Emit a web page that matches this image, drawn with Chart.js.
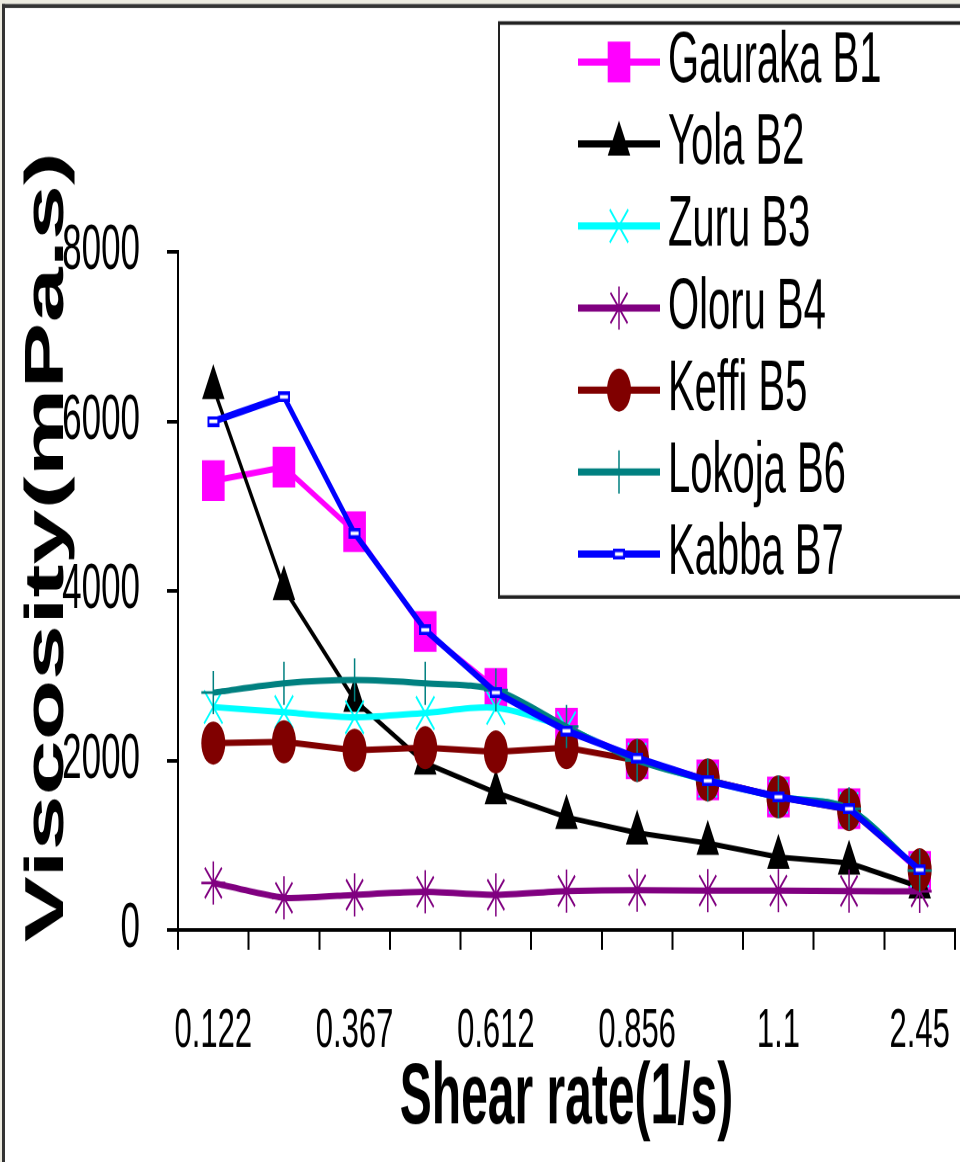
<!DOCTYPE html>
<html>
<head>
<meta charset="utf-8">
<script src="https://cdn.jsdelivr.net/npm/chart.js@4"></script>
<style>
  html, body { margin: 0; padding: 0; background: #fff; }
  #page { width: 960px; height: 1162px; position: relative; overflow: hidden; }
  /* the original picture is stretched vertically, so draw flat and stretch */
  #wrap { position: absolute; left: 0; top: 0; width: 960px; height: 646px; transform-origin: 0 0; transform: scale(1, 1.79876); }
</style>
</head>
<body>
<div id="page"><div id="wrap"><canvas id="myChart" width="960" height="646"></canvas></div></div>
<script>
// data
var shearRates = ['0.122', '0.245', '0.367', '0.49', '0.612', '0.734', '0.856', '0.978', '1.1', '1.22', '2.45'];
var gauraka = [5300, 5460, 4700, 3520, 2850, 2380, 2020, 1770, 1570, 1430, 690];
var yola    = [6400, 4030, 2710, 1970, 1620, 1330, 1145, 1025, 860, 790, 510];
var zuru    = [2630, 2570, 2510, 2560, 2620, 2380, 2010, 1760, 1570, 1430, 700];
var oloru   = [555, 380, 415, 450, 415, 460, 470, 465, 465, 460, 455];
var keffi   = [2205, 2220, 2120, 2150, 2100, 2150, 2000, 1770, 1570, 1420, 710];
var lokoja  = [2800, 2910, 2950, 2910, 2830, 2400, 2000, 1770, 1570, 1430, 700];
var kabba   = [6000, 6290, 4680, 3540, 2800, 2350, 2030, 1760, 1570, 1430, 710];
var yTicks  = [0, 2000, 4000, 6000, 8000];

var S = 1162 / 646;
var FONT = "'Liberation Sans', Arial, sans-serif";

// small hollow blue marker of Kabba B7
var kabbaMark = document.createElement('canvas');
kabbaMark.width = 12; kabbaMark.height = 6;
var mk = kabbaMark.getContext('2d');
mk.fillStyle = '#fff'; mk.fillRect(0, 0, 12, 6);
mk.strokeStyle = '#0000ff'; mk.lineWidth = 2; mk.strokeRect(1, 1, 10, 4);

function series(label, data, color, style, radius, pbw, width, tension) {
  return {
    label: label, data: data, borderColor: color, backgroundColor: color,
    borderWidth: width, tension: tension || 0,
    pointStyle: style, pointRadius: radius, pointHoverRadius: radius,
    pointBackgroundColor: color, pointBorderColor: color, pointBorderWidth: pbw
  };
}

var datasets = [
  series('Gauraka B1', gauraka, '#ff00ff', 'rect', 16, 0, 3.5),
  series('Yola B2', yola, '#000000', 'triangle', 13, 0, 3),
  series('Zuru B3', zuru, '#00ffff', 'crossRot', 13, 1.5, 3.5, 0.3),
  series('Oloru B4', oloru, '#800080', 'star', 12, 1.5, 3.5, 0.2),
  series('Keffi B5', keffi, '#800000', 'circle', 12, 0, 3.5),
  series('Lokoja B6', lokoja, '#008080', 'cross', 12, 1.5, 3.5, 0.3),
  series('Kabba B7', kabba, '#0000ff', kabbaMark, 6, 0, 4)
];
// later series are painted on top, like the original
for (var i = 0; i < datasets.length; i++) datasets[i].order = datasets.length - i;

var decor = {
  id: 'decor',
  beforeDraw: function(chart) {
    var ctx = chart.ctx;
    ctx.save();
    ctx.fillStyle = '#fff';
    ctx.fillRect(0, 0, 960, 646);
    ctx.fillStyle = '#ecebe0';
    ctx.fillRect(0, 0, 960, 4 / S);
    ctx.fillRect(0, 0, 2, 646);
    ctx.fillStyle = '#333';
    ctx.fillRect(2, 4 / S, 958, 4 / S);
    ctx.fillRect(2, 4 / S, 3, 646);
    ctx.restore();
  },
  afterDraw: function(chart) {
    var ctx = chart.ctx;
    ctx.save();
    // y title
    ctx.translate(63, 547 / S);
    ctx.rotate(-Math.PI / 2);
    ctx.fillStyle = '#000';
    ctx.font = 'bold 55px ' + FONT;
    ctx.textAlign = 'center';
    ctx.textBaseline = 'alphabetic';
    ctx.fillText('Viscosity(mPa.s)', 0, 0);
    ctx.restore();

    // legend box
    ctx.save();
    ctx.strokeStyle = '#222';
    ctx.lineWidth = 2;
    ctx.strokeRect(499, 23 / S, 470, (597 - 23) / S);
    ctx.font = '40px ' + FONT;
    ctx.textBaseline = 'middle';
    ctx.textAlign = 'left';
    chart.data.datasets.forEach(function(ds, k) {
      var y = (62 + k * 82) / S;
      ctx.strokeStyle = ds.borderColor;
      ctx.lineWidth = 4;
      ctx.beginPath();
      ctx.moveTo(578, y);
      ctx.lineTo(660, y);
      ctx.stroke();
      ctx.fillStyle = ds.pointBackgroundColor;
      ctx.strokeStyle = ds.pointBorderColor;
      ctx.lineWidth = ds.pointBorderWidth;
      if (Chart.helpers && Chart.helpers.drawPoint) {
        Chart.helpers.drawPoint(ctx, {
          pointStyle: ds.pointStyle, radius: ds.pointRadius,
          borderWidth: ds.pointBorderWidth, rotation: 0
        }, 619, y);
      }
      ctx.fillStyle = '#000';
      ctx.fillText(ds.label, 668, y);
    });
    ctx.restore();
  }
};

var ctx = document.getElementById('myChart').getContext('2d');
var myChart = new Chart(ctx, {
  type: 'line',
  data: { labels: shearRates, datasets: datasets },
  plugins: [decor],
  options: {
    responsive: false,
    animation: false,
    devicePixelRatio: 2,
    layout: { autoPadding: false, padding: { top: 140, right: 5, left: 0, bottom: 0 } },
    plugins: { legend: { display: false }, tooltip: { enabled: false } },
    scales: {
      x: {
        type: 'category',
        offset: true,
        grid: { display: true, drawOnChartArea: false, offset: true, tickLength: 11, color: '#000', lineWidth: 2 },
        border: { display: true, color: '#000', width: 2 },
        ticks: {
          autoSkip: false, maxRotation: 0, minRotation: 0, padding: 27, color: '#000',
          font: { family: FONT, size: 31 },
          callback: function(v, i) { return i % 2 === 0 ? shearRates[i] : ''; }
        },
        title: {
          display: true, text: 'Shear rate(1/s)', color: '#000',
          font: { family: FONT, size: 48, weight: 'bold' },
          padding: { top: 0, bottom: 6 }
        },
        afterFit: function(s) {
          s.height = 646 - 517;
          s.paddingLeft = 0;
          s.paddingRight = 0;
        }
      },
      y: {
        min: 0, max: 8000,
        grid: { drawOnChartArea: false, tickLength: 11, color: '#000', lineWidth: 2 },
        border: { display: true, color: '#000', width: 2 },
        ticks: {
          padding: 27, color: '#000', font: { family: FONT, size: 35 },
          callback: function(v) { return String(v); }
        },
        afterBuildTicks: function(s) { s.ticks = yTicks.map(function(v) { return { value: v }; }); },
        afterFit: function(s) { s.width = 178; }
      }
    }
  }
});
</script>
</body>
</html>
